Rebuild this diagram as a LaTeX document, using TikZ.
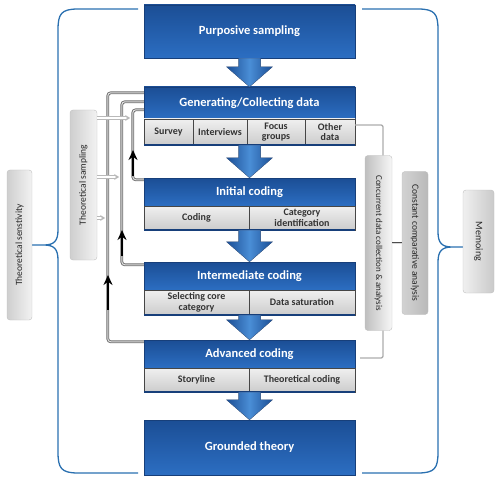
\documentclass[tikz,border=0pt]{standalone}
\usepackage{fontspec}
\setmainfont{Carlito}
\usetikzlibrary{arrows.meta}

\definecolor{navy}{HTML}{173F7A}
\definecolor{blueA}{HTML}{1B4E95}
\definecolor{blueB}{HTML}{2C6EC2}
\definecolor{blueC}{HTML}{4A8ED6}
\definecolor{braceblue}{HTML}{2A70B0}
\definecolor{lineg}{HTML}{6E6E6E}

\begin{document}
\begin{tikzpicture}[x=1pt,y=-1pt,
    mainbox/.style={rectangle, draw=navy, top color=blueA, bottom color=blueB, text=white,
      font=\fontsize{12.5}{13}\selectfont\bfseries, minimum width=211pt, inner sep=0pt},
    subbox/.style={rectangle, draw=gray!55!black, top color=gray!12, bottom color=gray!40,
      text=black!80, font=\fontsize{10}{10.5}\selectfont\bfseries, align=center, inner sep=0pt},
    sidebox/.style={rectangle, rounded corners=3pt, draw=gray!50, text=black!85, inner sep=0pt,
      font=\fontsize{9.5}{10}\selectfont},
    blockarrow/.style={left color=blueA, right color=blueA, middle color=blueC, draw=navy!80, line width=0.3pt},
    loopline/.style={draw=lineg, double=gray!25, double distance=1pt, line width=0.9pt, rounded corners=3pt},
    uparrow/.style={line width=2.2pt, -{Stealth[length=10pt,width=9pt]}},
    samparrow/.style={draw=gray!55, double=white, double distance=1.4pt, line width=0.9pt,
      -{Stealth[open,length=5pt,width=6pt]}},
    link/.style={draw=gray!65, line width=1.3pt, rounded corners=2pt},
    brace/.style={draw=braceblue, line width=1.3pt}
  ]
\useasboundingbox (0,0) rectangle (500,481);

\draw[brace] (138,9) -- (78,9) .. controls (61,9) and (58,14) .. (58,30) -- (58,230)
  .. controls (58,241) and (54,245) .. (44,245) -- (32,245)
  (44,245) .. controls (54,245) and (58,249) .. (58,260) -- (58,452)
  .. controls (58,468) and (61,473) .. (78,473) -- (138,473);
\draw[brace] (362,9) -- (418,9) .. controls (435,9) and (438,14) .. (438,30) -- (438,232)
  .. controls (438,243) and (442,247) .. (452,247) -- (463,247)
  (452,247) .. controls (442,247) and (438,251) .. (438,262) -- (438,452)
  .. controls (438,468) and (435,473) .. (418,473) -- (362,473);

\node[mainbox, minimum height=53pt] (ps) at (249.5,31.5) {Purposive sampling};
\node[mainbox, minimum height=32pt] (genh) at (249.5,103) {Generating/Collecting data};
\node[mainbox, minimum height=28pt] (inith) at (249.5,192) {Initial coding};
\node[mainbox, minimum height=28pt] (interh) at (249.5,276) {Intermediate coding};
\node[mainbox, minimum height=28pt] (advh) at (249.5,354) {Advanced coding};
\node[mainbox, minimum height=55pt] (gt) at (249.5,447.5) {Grounded theory};

\draw[loopline] ([yshift=-2pt]advh.north west) -- ++(-36,0) |- ([yshift=-6pt]genh.north west);
\draw[loopline] ([yshift=-3pt]interh.north west) -- ++(-22,0) |- ([yshift=-15pt]genh.north west);
\draw[loopline] ([yshift=-2pt]inith.north west) -- ++(-11,0) |- ([yshift=-23pt]genh.north west);
\draw[uparrow] (133,176) -- (133,150);
\draw[uparrow] (122,256) -- (122,230);
\draw[uparrow] (108,310) -- (108,275);

\node[subbox, minimum width=49pt, minimum height=26pt] (survey) at (168.5,132) {Survey};
\node[subbox, minimum width=54pt, minimum height=26pt] (interviews) at (220,132) {Interviews};
\node[subbox, minimum width=58pt, minimum height=26pt] (focus) at (276,132) {Focus\\groups};
\node[subbox, minimum width=50pt, minimum height=26pt] (other) at (330,132) {Other\\data};
\node[subbox, minimum width=105pt, minimum height=24pt] (coding) at (196.5,218) {Coding};
\node[subbox, minimum width=106pt, minimum height=24pt] (catid) at (302,218) {Category\\identification};
\node[subbox, minimum width=105pt, minimum height=25pt] (core) at (196.5,302.5) {Selecting core\\category};
\node[subbox, minimum width=106pt, minimum height=25pt] (sat) at (302,302.5) {Data saturation};
\node[subbox, minimum width=105pt, minimum height=24pt] (story) at (196.5,380) {Storyline};
\node[subbox, minimum width=106pt, minimum height=24pt] (theo) at (302,380) {Theoretical coding};
\draw[navy, line width=1.5pt] (survey.south west) -- (other.south east);
\draw[navy, line width=1.5pt] (coding.south west) -- (catid.south east);
\draw[navy, line width=1.5pt] (core.south west) -- (sat.south east);
\draw[navy, line width=1.5pt] (story.south west) -- (theo.south east);

\foreach \a/\b in {ps/genh, interviews/inith, coding/interh, core/advh, story/gt}{
  \path (ps.center |- \a.south) coordinate (atop) (ps.center |- \b.north) coordinate (atip);
  \fill[blockarrow] ([xshift=-11pt]atop) -- ([xshift=-11pt,yshift=20pt]atip)
    -- ([xshift=-23pt,yshift=20pt]atip) -- (atip) -- ([xshift=23pt,yshift=20pt]atip)
    -- ([xshift=11pt,yshift=20pt]atip) -- ([xshift=11pt]atop) -- cycle;
}

\node[sidebox, rotate=90, minimum width=150pt, minimum height=25pt, left color=gray!38, right color=gray!10]
  (tsens) at (19.5,245) {Theoretical senstivity};
\node[sidebox, rotate=90, minimum width=150pt, minimum height=27pt, left color=gray!38, right color=gray!10]
  (tsamp) at (83.5,185) {Theoretical sampling};
\draw[samparrow] ([yshift=67pt]tsamp.south) -- ++(33,0);
\draw[samparrow] ([yshift=8pt]tsamp.south) -- ++(22,0);
\draw[samparrow] ([yshift=-33pt]tsamp.south) -- ++(8,0);

\node[sidebox, rotate=-90, minimum width=175pt, minimum height=27pt, left color=gray!50, right color=gray!6,
  font=\fontsize{9}{10}\selectfont] (cdca) at (378.5,243) {Concurrent data collection \& analysis};
\node[sidebox, rotate=-90, minimum width=143pt, minimum height=26pt, left color=gray!35, right color=gray!55]
  (cca) at (415,243) {Constant comparative analysis};
\node[sidebox, rotate=-90, minimum width=103pt, minimum height=31pt, left color=gray!12, right color=gray!42,
  font=\fontsize{10}{11}\selectfont] (memo) at (478.5,241.5) {Memoing};

\draw[link] ([yshift=7pt]other.east) -| ([xshift=4.5pt]cdca.west);
\draw[link] ([xshift=4.5pt]cdca.east) |- ([xshift=5pt,yshift=-4pt]advh.east);
\draw[draw=gray!60!black, double=gray!30, double distance=1pt, line width=0.5pt] (cdca.north) -- (cca.south);

\end{tikzpicture}
\end{document}
